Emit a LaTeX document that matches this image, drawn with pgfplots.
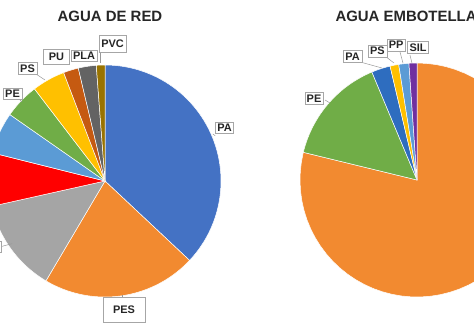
\documentclass[border=0pt]{standalone}
\usepackage{pgfplots}
\pgfplotsset{compat=1.18}
\usepackage{fontspec}
\setmainfont{Liberation Sans}
\definecolor{cBlue}{HTML}{4472C4}
\definecolor{cOrange}{HTML}{F28A30}
\definecolor{cGrey}{HTML}{A5A5A5}
\definecolor{cRed}{HTML}{FF0000}
\definecolor{cLBlue}{HTML}{5B9BD5}
\definecolor{cGreen}{HTML}{70AD47}
\definecolor{cGold}{HTML}{FFC000}
\definecolor{cRust}{HTML}{C55A11}
\definecolor{cDGrey}{HTML}{636363}
\definecolor{cOlive}{HTML}{997300}
\definecolor{cNavy}{HTML}{2E6DBF}
\definecolor{cPurple}{HTML}{7030A0}
% slice: start %, end %, colour
\newcommand{\slice}[3]{\addplot[fill=#3, draw=white, line width=0.5pt, domain=#1:#2, samples=60] ({sin(3.6*x)},{cos(3.6*x)}) -- (axis cs:0,0) -- cycle;}
\tikzset{lab/.style={draw=gray!70, fill=white, font=\fontsize{11}{13}\selectfont\bfseries, text=black!85, inner sep=2pt},
  lead/.style={draw=gray!80, line width=0.5pt}}
\begin{document}
\begin{tikzpicture}
\useasboundingbox (0,0) rectangle (474bp,324bp);
\clip (0,0) rectangle (474bp,324bp);
% ---------------- AGUA DE RED ----------------
\begin{axis}[hide axis, x=116bp, y=116bp, xmin=-1.3, xmax=1.3, ymin=-1.3, ymax=1.3,
  anchor=origin, at={(105bp,143bp)}, clip=false]
\slice{0}{37.0}{cBlue}
\slice{37.0}{58.5}{cOrange}
\slice{58.5}{71.5}{cGrey}
\slice{71.5}{78.9}{cRed}
\slice{78.9}{84.7}{cLBlue}
\slice{84.7}{89.6}{cGreen}
\slice{89.6}{94.2}{cGold}
\slice{94.2}{96.3}{cRust}
\slice{96.3}{98.8}{cDGrey}
\slice{98.8}{100}{cOlive}
\draw[lead] (axis cs:0.95,0.39) -- (axis cs:0.93,0.405);
\node[lab] at (axis cs:1.03,0.461) {PA};
\draw[lead] (axis cs:0.147,-1.0) -- (axis cs:0.147,-0.983);
\node[lab, minimum width=42bp, minimum height=25bp] at (axis cs:0.164,-1.112) {PES};
\draw[lead] (axis cs:-0.895,-0.565) -- (axis cs:-0.80,-0.54);
\node[lab, anchor=east] at (axis cs:-0.895,-0.565) {PP};
\draw[lead] (axis cs:-0.733,0.698) -- (axis cs:-0.716,0.681);
\node[lab] at (axis cs:-0.797,0.754) {PE};
\draw[lead] (axis cs:-0.595,0.922) -- (axis cs:-0.517,0.871);
\node[lab] at (axis cs:-0.668,0.970) {PS};
\node[lab, minimum width=26bp, minimum height=15bp] at (axis cs:-0.418,1.073) {PU};
\node[lab] at (axis cs:-0.181,1.082) {PLA};
\draw[lead] (axis cs:-0.043,1.112) -- (axis cs:-0.043,1.017);
\node[lab, minimum height=17bp] at (axis cs:0.065,1.185) {PVC};
\end{axis}
% ---------------- AGUA EMBOTELLADA ----------------
\begin{axis}[hide axis, x=117bp, y=117bp, xmin=-1.3, xmax=1.3, ymin=-1.3, ymax=1.3,
  anchor=origin, at={(417bp,144bp)}, clip=false]
\slice{0}{78.8}{cOrange}
\slice{78.8}{93.7}{cGreen}
\slice{93.7}{96.3}{cNavy}
\slice{96.3}{97.5}{cGold}
\slice{97.5}{98.9}{cLBlue}
\slice{98.9}{100}{cPurple}
\draw[lead] (axis cs:-0.786,0.684) -- (axis cs:-0.744,0.658);
\node[lab] at (axis cs:-0.880,0.697) {PE};
\draw[lead] (axis cs:-0.487,1.009) -- (axis cs:-0.299,0.957);
\node[lab] at (axis cs:-0.551,1.056) {PA};
\draw[lead] (axis cs:-0.274,1.060) -- (axis cs:-0.197,1.0);
\node[lab] at (axis cs:-0.338,1.103) {PS};
\draw[lead] (axis cs:-0.145,1.094) -- (axis cs:-0.120,1.0);
\node[lab] at (axis cs:-0.179,1.154) {PP};
\draw[lead] (axis cs:-0.060,1.068) -- (axis cs:-0.043,1.0);
\node[lab] at (axis cs:0.009,1.132) {SIL};
\end{axis}
\node[font=\fontsize{15}{18}\selectfont\bfseries, text=black!85] at (110bp,308bp) {AGUA DE RED};
\node[font=\fontsize{15}{18}\selectfont\bfseries, text=black!85, anchor=west] at (332bp,308bp) {AGUA EMBOTELLADA};
\end{tikzpicture}
\end{document}
